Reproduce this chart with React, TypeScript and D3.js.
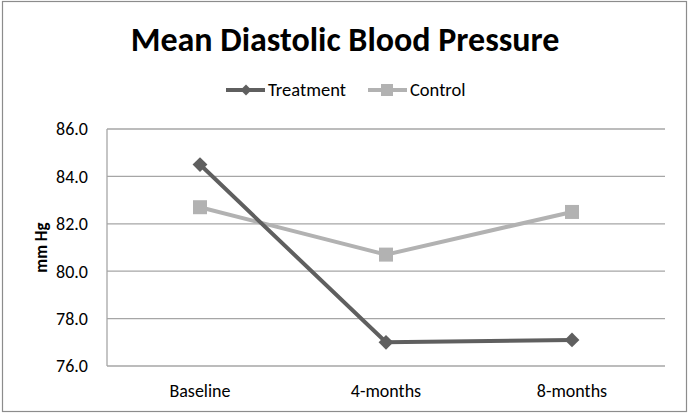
import React, { useEffect, useRef } from 'react';
import * as d3 from 'd3';

const categories = ['Baseline', '4-months', '8-months'];
const treatment = [84.5, 77.0, 77.1];
const control = [82.7, 80.7, 82.5];
const yTicks = [76, 78, 80, 82, 84, 86];

const W = 691;
const H = 416;
const FONT = "Carlito, Calibri, 'Open Sans', 'Noto Sans', sans-serif";

export default function App() {
    const svgRef = useRef<SVGSVGElement>(null);

    useEffect(() => {
        if (!svgRef.current) return;
        const svg = d3.select(svgRef.current);
        svg.selectAll('*').remove();

        const margin = { top: 129, right: 26, bottom: 50, left: 107 };
        const innerW = W - margin.left - margin.right;
        const innerH = H - margin.top - margin.bottom;

        // outer chart border
        svg.append('rect')
            .attr('x', 2.5).attr('y', 1.5)
            .attr('width', 684).attr('height', 410)
            .attr('fill', '#fff')
            .attr('stroke', '#8c8c8c')
            .attr('stroke-width', 1.2);

        const g = svg.append('g').attr('transform', `translate(${margin.left},${margin.top})`);

        const x = d3.scalePoint<string>().domain(categories).range([0, innerW]).padding(0.5);
        const y = d3.scaleLinear().domain([76, 86]).range([innerH, 0]);

        // gridlines
        g.selectAll('.grid')
            .data(yTicks)
            .enter().append('line')
            .attr('x1', 0).attr('x2', innerW)
            .attr('y1', d => y(d)).attr('y2', d => y(d))
            .attr('stroke', '#a6a6a6')
            .attr('stroke-width', 1.3);

        // left axis line
        g.append('line')
            .attr('x1', 0).attr('x2', 0)
            .attr('y1', 0).attr('y2', innerH)
            .attr('stroke', '#a6a6a6')
            .attr('stroke-width', 1.3);

        // y tick labels
        g.selectAll('.ytick')
            .data(yTicks)
            .enter().append('text')
            .attr('x', -19)
            .attr('y', d => y(d))
            .attr('dy', '0.35em')
            .attr('text-anchor', 'end')
            .style('font-family', FONT)
            .style('font-size', '18px')
            .style('fill', '#000')
            .text(d => d.toFixed(1));

        // x labels
        g.selectAll('.xtick')
            .data(categories)
            .enter().append('text')
            .attr('x', d => x(d)!)
            .attr('y', innerH + 31)
            .attr('text-anchor', 'middle')
            .style('font-family', FONT)
            .style('font-size', '18px')
            .style('fill', '#000')
            .text(d => d);

        // y axis title
        svg.append('text')
            .attr('transform', `translate(47,${margin.top + innerH / 2}) rotate(-90)`)
            .attr('text-anchor', 'middle')
            .style('font-family', FONT)
            .style('font-size', '17px')
            .style('font-weight', 'bold')
            .text('mm Hg');

        // title
        svg.append('text')
            .attr('x', 345)
            .attr('y', 51)
            .attr('text-anchor', 'middle')
            .style('font-family', FONT)
            .style('font-size', '34px')
            .style('font-weight', 'bold')
            .text('Mean Diastolic Blood Pressure');

        const line = d3.line<number>()
            .x((_, i) => x(categories[i])!)
            .y(d => y(d));

        const tColor = '#5f5f5f';
        const cColor = '#b2b2b2';

        g.append('path').datum(control)
            .attr('d', line)
            .attr('fill', 'none')
            .attr('stroke', cColor)
            .attr('stroke-width', 4);

        g.append('path').datum(treatment)
            .attr('d', line)
            .attr('fill', 'none')
            .attr('stroke', tColor)
            .attr('stroke-width', 4);

        const diamond = d3.symbol().type(d3.symbolSquare).size(110);

        g.selectAll('.cmark')
            .data(control)
            .enter().append('rect')
            .attr('x', (_, i) => x(categories[i])! - 7)
            .attr('y', d => y(d) - 7)
            .attr('width', 14).attr('height', 14)
            .attr('fill', cColor);

        g.selectAll('.tmark')
            .data(treatment)
            .enter().append('path')
            .attr('d', diamond)
            .attr('transform', (d, i) => `translate(${x(categories[i])},${y(d)}) rotate(45)`)
            .attr('fill', tColor);

        // legend
        const lg = svg.append('g').attr('transform', 'translate(0,90)');
        lg.append('line').attr('x1', 226).attr('x2', 265).attr('y1', 0).attr('y2', 0)
            .attr('stroke', tColor).attr('stroke-width', 4);
        lg.append('path').attr('d', d3.symbol().type(d3.symbolSquare).size(60))
            .attr('transform', 'translate(246,0) rotate(45)').attr('fill', tColor);
        lg.append('text').attr('x', 268).attr('y', 0).attr('dy', '0.35em')
            .style('font-family', FONT).style('font-size', '18.5px').text('Treatment');

        lg.append('line').attr('x1', 368).attr('x2', 407).attr('y1', 0).attr('y2', 0)
            .attr('stroke', cColor).attr('stroke-width', 4);
        lg.append('rect').attr('x', 381).attr('y', -6).attr('width', 12).attr('height', 12)
            .attr('fill', cColor);
        lg.append('text').attr('x', 410).attr('y', 0).attr('dy', '0.35em')
            .style('font-family', FONT).style('font-size', '18.5px').text('Control');
    }, []);

    return (
        <svg ref={svgRef} width={W} height={H}
            style={{ position: 'absolute', left: 0, top: 0, background: '#fff' }} />
    );
}
